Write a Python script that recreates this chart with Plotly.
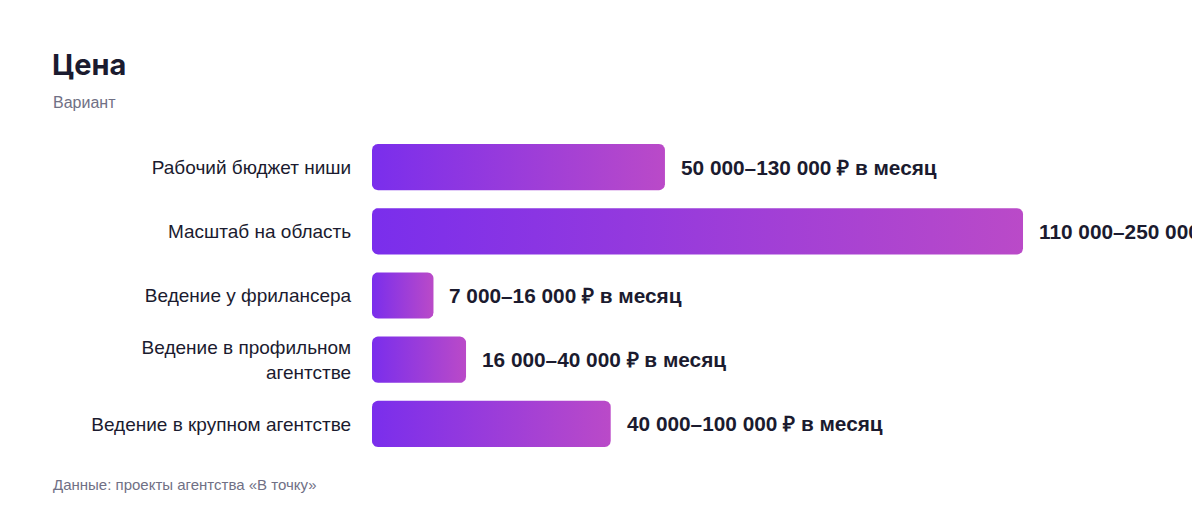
import numpy as np
import plotly.graph_objects as go

# data
categories = ["Рабочий бюджет ниши", "Масштаб на область", "Ведение у фрилансера",
              "Ведение в профильном<br>агентстве", "Ведение в крупном агентстве"]
bar_values = [81, 180, 17, 26, 66]
value_labels = ["50 000–130 000 ₽ в месяц", "110 000–250 000 ₽ в месяц",
                "7 000–16 000 ₽ в месяц", "16 000–40 000 ₽ в месяц",
                "40 000–100 000 ₽ в месяц"]

# page body adds 8px, so the figure is 8px smaller and everything shifted
OFF = 8
W, H = 1200 - OFF, 520 - OFF
ML, MT = 372 - OFF, 135 - OFF
MR = 100 - OFF
MB = H - (456 - OFF)
XMAX = 203.5
plot_w = W - ML - MR
plot_h = H - MT - MB
n = len(categories)
px_x = plot_w / XMAX
px_y = plot_h / n

half_h = 0.36
rad = 6
rx = rad / px_x
ry = rad / px_y


def rounded_bar(v, yc):
    # rounded rectangle outline in data coords
    x0, x1 = 0, v
    y0, y1 = yc - half_h, yc + half_h
    t = np.linspace(0, np.pi / 2, 8)
    xs, ys = [], []
    for cx, cy, a0 in [(x1 - rx, y0 + ry, -np.pi / 2), (x1 - rx, y1 - ry, 0),
                       (x0 + rx, y1 - ry, np.pi / 2), (x0 + rx, y0 + ry, np.pi)]:
        ang = a0 + t
        xs += list(cx + rx * np.cos(ang))
        ys += list(cy + ry * np.sin(ang))
    xs.append(xs[0])
    ys.append(ys[0])
    return xs, ys


def px_to_paper_y(y):
    return 1 - (y - OFF - MT) / plot_h


def px_to_paper_x(x):
    return (x - OFF - ML) / plot_w


fig = go.Figure()
for i, v in enumerate(bar_values):
    xs, ys = rounded_bar(v, i)
    fig.add_trace(go.Scatter(
        x=xs, y=ys, mode="lines", fill="toself",
        line=dict(width=0, color="rgba(0,0,0,0)"),
        fillgradient=dict(type="horizontal",
                          colorscale=[[0, "#7a2eec"], [1, "#ba4ac8"]]),
        hoverinfo="skip", showlegend=False,
    ))
    fig.add_annotation(x=v, y=i, text="<b>" + value_labels[i] + "</b>",
                       xanchor="left", yanchor="middle", xshift=14, showarrow=False,
                       font=dict(size=20.8, color="#1b1b2f", family="Liberation Sans"))

fig.add_annotation(text="Вариант", xref="paper", yref="paper", x=px_to_paper_x(51),
                   y=px_to_paper_y(102), xanchor="left", yanchor="middle", showarrow=False,
                   font=dict(size=16, color="#707085", family="Liberation Sans"))
fig.add_annotation(text="Данные: проекты агентства «В точку»", xref="paper", yref="paper",
                   x=px_to_paper_x(51), y=px_to_paper_y(485), xanchor="left",
                   yanchor="middle", showarrow=False,
                   font=dict(size=15, color="#707085", family="Liberation Sans"))

fig.update_layout(
    width=W, height=H,
    margin=dict(l=ML, r=MR, t=MT, b=MB),
    plot_bgcolor="white", paper_bgcolor="white",
    font=dict(family="Liberation Sans", color="#1b1b2f"),
    title=dict(text="<b>Цена</b>", x=(52 - OFF) / W, xref="container", xanchor="left",
               y=1 - (65 - OFF) / H, yref="container", yanchor="middle",
               font=dict(size=29, color="#1b1b2f", family="Inter")),
    xaxis=dict(range=[0, XMAX], visible=False, fixedrange=True),
    yaxis=dict(range=[n - 0.5, -0.5], tickvals=list(range(n)), ticktext=categories,
               showgrid=False, zeroline=False, showline=False,
               ticks="outside", ticklen=16, tickcolor="white",
               tickfont=dict(size=19, color="#1b1b2f", family="Liberation Sans")),
)

fig.write_html("out.html")
